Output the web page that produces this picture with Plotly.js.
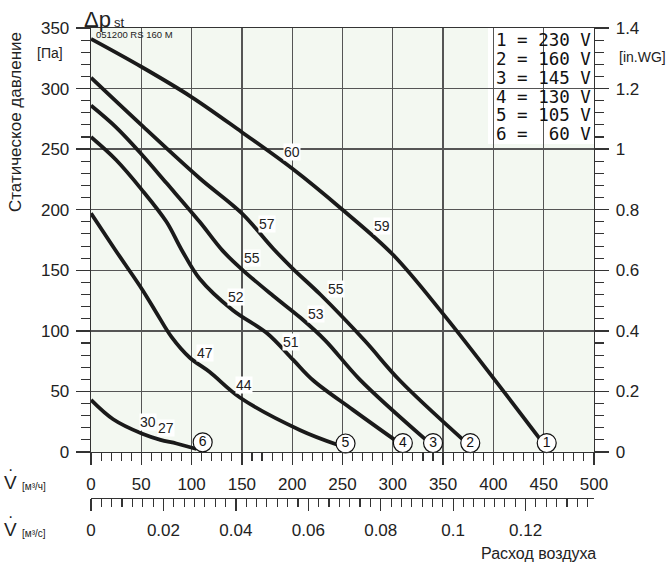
<!DOCTYPE html>
<html>
<head>
<meta charset="utf-8">
<script src="https://cdn.plot.ly/plotly-3.0.1.min.js"></script>
<style>html,body{margin:0;padding:0;background:#fff;}</style>
</head>
<body>
<div id="chart" style="width:670px;height:565px;"></div>
<script>
// ---- data (flow in m3/h, static pressure in Pa) ----
const c1x = [0, 50, 100, 150, 200, 250, 300, 350, 400, 446];
const c1y = [341, 318, 293, 264, 234, 200, 163, 114, 61, 11];
const c2x = [0, 50, 108, 150, 181, 201, 228, 272, 307, 370];
const c2y = [309, 270, 226, 197, 168, 151, 130, 92, 59, 10];
const c3x = [0, 25, 50, 75, 108, 131, 151, 181, 208, 233, 267, 333];
const c3y = [286, 268, 246, 222, 190, 166, 150, 129, 111, 92, 60, 10];
const c4x = [0, 25, 50, 75, 90, 108, 141, 175, 201, 221, 260, 302];
const c4y = [260, 241, 217, 190, 167, 143, 117, 98, 76, 59, 35, 10];
const c5x = [0, 24, 51, 65, 80, 98, 118, 148, 208, 245];
const c5y = [197, 167, 134, 115, 95, 78, 66, 45, 18, 6];
const c6x = [0, 22, 51, 69, 85, 105];
const c6y = [43, 27, 15, 10, 7, 2.5];

const endNames = ['1', '2', '3', '4', '5', '6'];
const endX = [453, 377, 340, 310, 253, 111];
const endY = [7.4, 7.4, 7.4, 7.4, 7, 8];

const labelText = ['60', '59', '57', '55', '55', '53', '52', '51', '47', '44', '30', '27'];
const labelX = [199.5, 289.6, 174.6, 159.7, 243.5, 223.3, 143.8, 198.8, 113.6, 152.1, 56.3, 74.5];
const labelY = [247.4, 186.8, 188.2, 160.1, 134.3, 113.9, 128.2, 90.6, 81.5, 55.3, 24.5, 19.6];

const voltNum = ['1', '2', '3', '4', '5', '6'];
const voltVal = ['230', '160', '145', '130', '105', ' 60'];

const m3hRange = [0, 500];
const paRange = [0, 350];
const inwgRange = [0, 1.4];

// ---- helpers (pixel -> paper) ----
const L = 91, R = 594, T = 28, B = 498;
const pxX = p => (p - L) / (R - L);
const pxY = p => (B - p) / (B - T);

const FONT = 'Liberation Sans, Arial, sans-serif';
const curveLine = {color: '#1a1a1a', width: 3.8, shape: 'spline', smoothing: 1};
const curves = [[c1x, c1y], [c2x, c2y], [c3x, c3y], [c4x, c4y], [c5x, c5y], [c6x, c6y]];

const traces = curves.map(c => ({
  x: c[0], y: c[1], type: 'scatter', mode: 'lines', line: curveLine,
  hoverinfo: 'skip', xaxis: 'x', yaxis: 'y'
}));
traces.push({
  x: endX, y: endY, type: 'scatter', mode: 'markers+text', text: endNames,
  textposition: 'middle center', textfont: {family: FONT, size: 14, color: '#111'},
  marker: {symbol: 'circle', size: 19, color: '#ffffff', line: {color: '#111', width: 1.2}},
  hoverinfo: 'skip', xaxis: 'x', yaxis: 'y', cliponaxis: false
});
// helper traces so the extra axes are drawn
traces.push({x: [0], y: [0], type: 'scatter', mode: 'markers', marker: {opacity: 0}, xaxis: 'x2', yaxis: 'y', hoverinfo: 'skip'});
traces.push({x: [0], y: [0], type: 'scatter', mode: 'markers', marker: {opacity: 0}, xaxis: 'x', yaxis: 'y2', hoverinfo: 'skip'});

const annotations = [];
labelText.forEach((t, i) => annotations.push({
  text: t, x: labelX[i], y: labelY[i], xref: 'x', yref: 'y', showarrow: false,
  bgcolor: '#ffffff', borderpad: 0, font: {family: FONT, size: 14, color: '#222'}
}));
function ann(text, x, y, size, xanchor, extra) {
  annotations.push(Object.assign({
    text: text, x: pxX(x), y: pxY(y), xref: 'paper', yref: 'paper', showarrow: false,
    xanchor: xanchor || 'center', yanchor: 'middle',
    font: {family: FONT, size: size, color: '#222'}
  }, extra || {}));
}
ann('Δp', 82, 20, 22, 'left');
ann('st', 112, 23, 13, 'left');
ann('051200 RS 160 M', 94, 34, 9.5, 'left');
ann('[Па]', 65, 53, 14, 'right');
ann('[in.WG]', 617, 57, 14, 'left');
ann('Статическое давление', 16, 122, 17, 'center', {textangle: -90});
// V-dot labels
ann('V', 10, 482, 19, 'center');
ann('·', 10.5, 469, 16, 'center');
ann('[м³/ч]', 20, 486, 10, 'left');
ann('V', 10, 529, 19, 'center');
ann('·', 10.5, 516, 16, 'center');
ann('[м³/с]', 20, 533, 10, 'left');
ann('Расход воздуха', 598, 553, 16, 'right');
// voltage table
const rowY = [40, 59, 77.5, 96.5, 115, 133.5];
voltNum.forEach((n, i) => ann(n + ' = ' + voltVal[i] + ' V', 593, rowY[i], 17.5, 'right',
  {font: {family: 'DejaVu Sans Mono, monospace', size: 17.5, color: '#111'}}));

const tickFont = {family: FONT, size: 17, color: '#222'};
const axCol = '#333';
const gridCol = '#555';

const layout = {
  width: 670, height: 565,
  margin: {l: 91, r: 76, t: 28, b: 67, pad: 0},
  paper_bgcolor: '#ffffff', plot_bgcolor: '#f3f8f1',
  showlegend: false,
  xaxis: {
    range: m3hRange, anchor: 'y', side: 'bottom', tick0: 0, dtick: 50,
    ticks: 'outside', ticklen: 12, tickwidth: 1.3, tickcolor: axCol,
    showline: true, linecolor: axCol, linewidth: 1.3, mirror: true,
    showgrid: true, gridcolor: gridCol, gridwidth: 1.3, zeroline: false,
    tickfont: tickFont, ticklabelstandoff: 4,
    minor: {dtick: 10, tick0: 0, ticks: 'outside', ticklen: 8, tickwidth: 1.1, tickcolor: axCol, showgrid: false}
  },
  xaxis2: {
    range: [m3hRange[0] / 3600, m3hRange[1] / 3600], overlaying: 'x', anchor: 'free', position: 0,
    side: 'bottom', tick0: 0, dtick: 0.02,
    ticks: 'outside', ticklen: 12, tickwidth: 1.3, tickcolor: axCol,
    showline: true, linecolor: axCol, linewidth: 1.3, showgrid: false, zeroline: false,
    tickfont: tickFont, ticklabelstandoff: 4,
    minor: {dtick: 0.02 / 7, tick0: 0, ticks: 'outside', ticklen: 8, tickwidth: 1.1, tickcolor: axCol, showgrid: false}
  },
  yaxis: {
    range: paRange, domain: [(B - 452) / (B - T), 1], anchor: 'x', tick0: 0, dtick: 50,
    ticks: 'outside', ticklen: 14, tickwidth: 1.3, tickcolor: axCol,
    showline: true, linecolor: axCol, linewidth: 1.3, mirror: true,
    showgrid: true, gridcolor: gridCol, gridwidth: 1.3, zeroline: false,
    tickfont: tickFont, ticklabelstandoff: 3,
    minor: {dtick: 10, tick0: 0, ticks: 'outside', ticklen: 9, tickwidth: 1.1, tickcolor: axCol, showgrid: false}
  },
  yaxis2: {
    range: inwgRange, overlaying: 'y', side: 'right', anchor: 'x', tick0: 0, dtick: 0.2,
    ticks: 'outside', ticklen: 14, tickwidth: 1.3, tickcolor: axCol,
    showline: true, linecolor: axCol, linewidth: 1.3, showgrid: false, zeroline: false,
    tickfont: tickFont, ticklabelstandoff: 3,
    minor: {dtick: 0.04, tick0: 0, ticks: 'outside', ticklen: 9, tickwidth: 1.1, tickcolor: axCol, showgrid: false}
  },
  shapes: [{
    type: 'rect', xref: 'paper', yref: 'paper', x0: pxX(488), x1: 1, y0: pxY(144), y1: 1,
    fillcolor: '#ffffff', line: {width: 0}, layer: 'between'
  }],
  annotations: annotations
};

Plotly.newPlot('chart', traces, layout, {staticPlot: true, displayModeBar: false});
</script>
</body>
</html>
